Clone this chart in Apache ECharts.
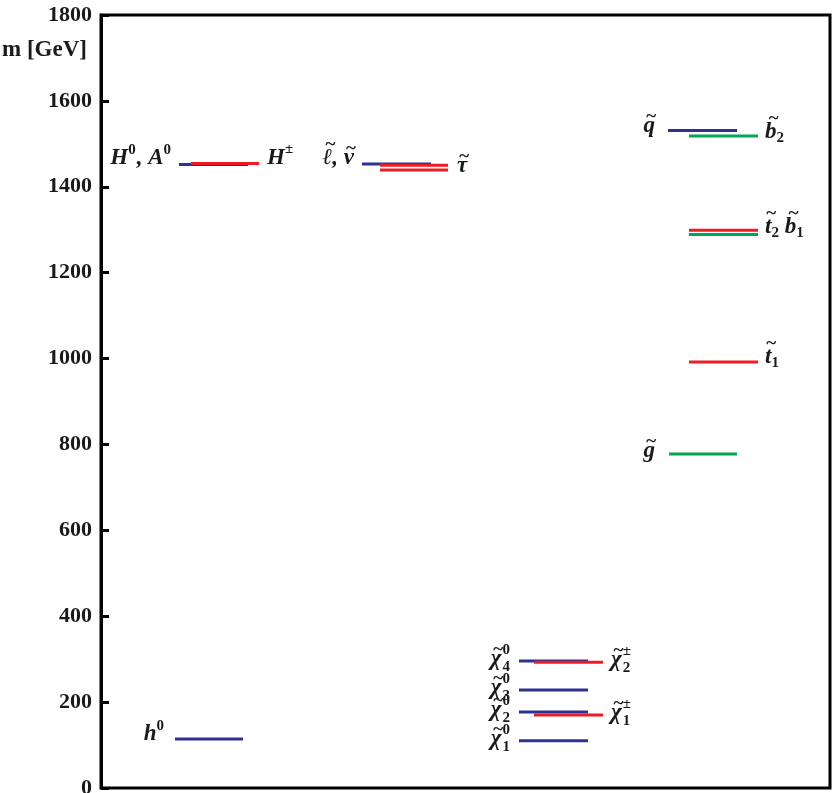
<!DOCTYPE html>
<html><head><meta charset="utf-8">
<script src="https://cdn.jsdelivr.net/npm/echarts@6/dist/echarts.min.js"></script>
<style>html,body{margin:0;padding:0;background:#fff}#c{width:834px;height:793px}</style>
</head><body><div id="c"></div>
<script>
// ---- data (masses in GeV) ----
const blueNames = ['h0', 'H0A0', 'slepton', 'chi10', 'chi20', 'chi30', 'chi40', 'squark'];
const blueMasses = [114, 1452, 1453, 110, 177, 228, 296, 1531];
const redNames = ['Hpm', 'stau2', 'stau1', 'chi1pm', 'chi2pm', 'stop1', 'stop2'];
const redMasses = [1454, 1450, 1439, 170, 293, 992, 1299];
const greenNames = ['gluino', 'sbottom1', 'sbottom2'];
const greenMasses = [778, 1289, 1518];
const yTicks = [0, 200, 400, 600, 800, 1000, 1200, 1400, 1600, 1800];
const axisTitle = 'm [GeV]';

// ---- layout (horizontal extents of each level, in plot units) ----
const span = {
  h0: [74, 142], H0A0: [78, 147], Hpm: [90, 158],
  slepton: [261, 330], stau1: [279, 347], stau2: [279, 347],
  chi10: [418, 487], chi20: [418, 487], chi30: [418, 487], chi40: [418, 487],
  chi1pm: [433, 502], chi2pm: [433, 502],
  squark: [567, 636], gluino: [568, 636],
  sbottom1: [588, 657], sbottom2: [588, 657], stop1: [588, 657], stop2: [588, 657]
};
const massOf = {};
blueNames.forEach((n, i) => massOf[n] = blueMasses[i]);
redNames.forEach((n, i) => massOf[n] = redMasses[i]);
greenNames.forEach((n, i) => massOf[n] = greenMasses[i]);

// label parts: [text, style, tilde]; style i = italic, s = superscript, b = subscript, ss = stacked sup/sub
const labels = [
  { parts: [['h', 'i'], ['0', 's']], x: 64, ref: 'h0', align: 'right', dy: -5 },
  { parts: [['H', 'i'], ['0', 's'], [', A', 'i'], ['0', 's']], x: 71, ref: 'H0A0', align: 'right', dy: -6 },
  { parts: [['H', 'i'], ['±', 's']], x: 166, ref: 'Hpm', align: 'left', dy: -6 },
  { parts: [['ℓ', 'i', 1], [', ', 'i'], ['ν', 'i', 1]], x: 253, ref: 'slepton', align: 'right', dy: -6 },
  { parts: [['τ', 'i', 1]], x: 356, ref: 'stau1', align: 'left', dy: -4 },
  { parts: [['q', 'i', 1]], x: 554, ref: 'squark', align: 'right', dy: -4 },
  { parts: [['b', 'i', 1], ['2', 'b']], x: 664, ref: 'sbottom2', align: 'left', dy: -4 },
  { parts: [['t', 'i', 1], ['2', 'b'], [' ', 'i'], ['b', 'i', 1], ['1', 'b']], x: 664, ref: 'stop2', align: 'left', dy: -3 },
  { parts: [['t', 'i', 1], ['1', 'b']], x: 664, ref: 'stop1', align: 'left', dy: -5 },
  { parts: [['g', 'i', 1]], x: 554, ref: 'gluino', align: 'right', dy: -3 },
  { parts: [['χ', 'i', 1], ['0|4', 'ss']], x: 409, ref: 'chi40', align: 'right', dy: -2 },
  { parts: [['χ', 'i', 1], ['0|3', 'ss']], x: 409, ref: 'chi30', align: 'right', dy: -2 },
  { parts: [['χ', 'i', 1], ['0|2', 'ss']], x: 409, ref: 'chi20', align: 'right', dy: -2 },
  { parts: [['χ', 'i', 1], ['0|1', 'ss']], x: 409, ref: 'chi10', align: 'right', dy: -2 },
  { parts: [['χ', 'i', 1], ['±|2', 'ss']], x: 510, ref: 'chi2pm', align: 'left', dy: -2 },
  { parts: [['χ', 'i', 1], ['±|1', 'ss']], x: 510, ref: 'chi1pm', align: 'left', dy: -2 }
];

const FONT = '"Liberation Serif", "DejaVu Serif", serif';
const INK = '#1a1a1a';
const ST = {
  i: { fontStyle: 'italic', fontWeight: 'bold', fontSize: 23, dy: 0 },
  s: { fontStyle: 'normal', fontWeight: 'bold', fontSize: 15, dy: -8 },
  b: { fontStyle: 'normal', fontWeight: 'bold', fontSize: 15, dy: 6 }
};
const mctx = document.createElement('canvas').getContext('2d');
function measure(txt, st) {
  mctx.font = st.fontStyle + ' ' + st.fontWeight + ' ' + st.fontSize + 'px ' + FONT;
  return mctx.measureText(txt).width;
}
function buildLabel(l, px, py) {
  const items = [];
  let w = 0;
  l.parts.forEach(p => {
    if (p[1] === 'ss') {
      const [a, b] = p[0].split('|');
      const wa = measure(a, ST.s), wb = measure(b, ST.s);
      items.push({ kind: 'ss', a, b, x: w + 1 });
      w += Math.max(wa, wb) + 1;
    } else {
      const st = ST[p[1]];
      const ww = measure(p[0], st);
      items.push({ kind: 't', txt: p[0], st, x: w, w: ww, tilde: !!p[2] });
      w += ww + (p[1] === 's' ? 1 : 0);
    }
  });
  const x0 = l.align === 'right' ? px - w : px;
  const children = [];
  items.forEach(it => {
    if (it.kind === 'ss') {
      children.push({ type: 'text', x: x0 + it.x, y: py - 9, style: { text: it.a, fill: INK, font: 'bold 15px ' + FONT, align: 'left', verticalAlign: 'middle' } });
      children.push({ type: 'text', x: x0 + it.x, y: py + 8, style: { text: it.b, fill: INK, font: 'bold 15px ' + FONT, align: 'left', verticalAlign: 'middle' } });
    } else {
      const st = it.st;
      children.push({ type: 'text', x: x0 + it.x, y: py + st.dy, style: { text: it.txt, fill: INK, font: st.fontStyle + ' ' + st.fontWeight + ' ' + st.fontSize + 'px ' + FONT, align: 'left', verticalAlign: 'middle' } });
      if (it.tilde) {
        const tall = 'ℓtb'.indexOf(it.txt) >= 0;
        children.push({ type: 'text', x: x0 + it.x + it.w / 2 + (tall ? 3 : 2), y: py - (tall ? 13 : 9), style: { text: '~', fill: INK, font: 'bold 19px ' + FONT, align: 'center', verticalAlign: 'middle' } });
      }
    }
  });
  return { type: 'group', children };
}

function segSeries(names, masses, color) {
  return {
    type: 'custom', coordinateSystem: 'cartesian2d',
    data: names.map((n, i) => [span[n][0], span[n][1], masses[i]]),
    encode: { x: [0, 1], y: 2 },
    renderItem: function (params, api) {
      const a = api.coord([api.value(0), api.value(2)]);
      const b = api.coord([api.value(1), api.value(2)]);
      return { type: 'line', shape: { x1: a[0], y1: a[1], x2: b[0], y2: b[1] }, style: { stroke: color, lineWidth: 3 } };
    }
  };
}

const labelSeries = {
  type: 'custom', coordinateSystem: 'cartesian2d', silent: true,
  data: labels.map(l => [l.x, massOf[l.ref]]),
  encode: { x: 0, y: 1 },
  renderItem: function (params, api) {
    const l = labels[params.dataIndex];
    const p = api.coord([api.value(0), api.value(1)]);
    return buildLabel(l, p[0], p[1] + l.dy);
  }
};

const chart = echarts.init(document.getElementById('c'), null, { renderer: 'canvas' });
chart.setOption({
  animation: false,
  backgroundColor: '#fff',
  grid: { left: 101, right: 4, top: 15, bottom: 5, containLabel: false, outerBoundsMode: 'none',
          show: true, borderColor: '#000', borderWidth: 3, backgroundColor: 'transparent' },
  xAxis: { type: 'value', min: 0, max: 729, show: false },
  yAxis: {
    type: 'value', min: 0, max: 1800, interval: 200,
    axisLine: { show: true, lineStyle: { color: '#000', width: 3 } },
    axisTick: { show: true, inside: true, length: 8, lineStyle: { color: '#000', width: 3 } },
    splitLine: { show: false },
    axisLabel: {
      margin: 9, color: INK, fontFamily: FONT, fontWeight: 'bold', fontSize: 22,
      formatter: v => yTicks.indexOf(v) >= 0 ? String(v) : ''
    }
  },
  graphic: [{ type: 'text', left: 2, top: 39, style: { text: axisTitle, fontFamily: FONT, fontWeight: 'bold', fontSize: 23, fill: INK } }],
  series: [
    segSeries(blueNames, blueMasses, '#2E3192'),
    segSeries(redNames, redMasses, '#ED1C24'),
    segSeries(greenNames, greenMasses, '#00A651'),
    labelSeries
  ]
});
</script></body></html>
